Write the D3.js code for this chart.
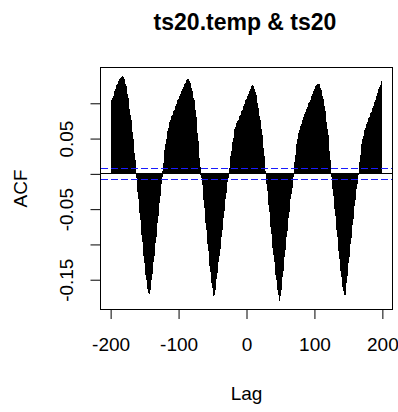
<!DOCTYPE html>
<html>
<head>
<meta charset="utf-8">
<script src="https://cdn.jsdelivr.net/npm/d3@7"></script>
<style>
  body { margin: 0; background: #fff; }
  svg { display: block; }
  text { font-family: "Liberation Sans", Arial, sans-serif; }
</style>
</head>
<body>
<svg width="398" height="412"></svg>
<script>
// ################################### Data #######################################

// cross-correlation values, one per lag, starting at lagStart
var lagStart = -199;
var acfValues = [
    0.100, 0.104, 0.108, 0.111, 0.114, 0.117, 0.120, 0.123, 0.126, 0.128,       // -199
    0.130, 0.132, 0.134, 0.135, 0.136, 0.137, 0.138, 0.138, 0.137, 0.135,       // -189
    0.132, 0.128, 0.124, 0.119, 0.113, 0.107, 0.100, 0.092, 0.084, 0.076,       // -179
    0.068, 0.059, 0.050, 0.040, 0.030, 0.019, 0.008, -0.006, -0.016, -0.026,    // -169
    -0.036, -0.046, -0.056, -0.066, -0.076, -0.086, -0.096, -0.106, -0.116, -0.126, // -159
    -0.135, -0.143, -0.150, -0.157, -0.163, -0.169, -0.170, -0.164, -0.157, -0.150, // -149
    -0.142, -0.134, -0.125, -0.116, -0.107, -0.098, -0.089, -0.080, -0.070, -0.060, // -139
    -0.050, -0.041, -0.032, -0.023, -0.014, -0.005, 0.004, 0.015, 0.025, 0.034, // -129
    0.042, 0.049, 0.056, 0.061, 0.065, 0.069, 0.073, 0.076, 0.079, 0.082,       // -119
    0.084, 0.087, 0.089, 0.091, 0.094, 0.096, 0.099, 0.101, 0.104, 0.106,       // -109
    0.109, 0.111, 0.113, 0.116, 0.118, 0.120, 0.123, 0.125, 0.127, 0.129,       // -99
    0.131, 0.133, 0.134, 0.134, 0.133, 0.131, 0.129, 0.126, 0.122, 0.118,       // -89
    0.113, 0.108, 0.104, 0.100, 0.091, 0.081, 0.070, 0.058, 0.046, 0.034,       // -79
    0.022, 0.010, -0.001, -0.006, -0.016, -0.027, -0.037, -0.048, -0.058, -0.069, // -69
    -0.080, -0.090, -0.100, -0.110, -0.120, -0.130, -0.139, -0.147, -0.155, -0.162, // -59
    -0.168, -0.173, -0.171, -0.164, -0.157, -0.149, -0.141, -0.133, -0.125, -0.116, // -49
    -0.107, -0.098, -0.089, -0.080, -0.071, -0.062, -0.053, -0.044, -0.035, -0.027, // -39
    -0.019, -0.012, -0.006, -0.001, 0.008, 0.017, 0.025, 0.032, 0.039, 0.045,   // -29
    0.051, 0.057, 0.063, 0.066, 0.069, 0.072, 0.075, 0.077, 0.079, 0.082,       // -19
    0.084, 0.086, 0.089, 0.091, 0.094, 0.096, 0.099, 0.101, 0.104, 0.106,       // -9
    0.108, 0.110, 0.113, 0.115, 0.117, 0.120, 0.122, 0.124, 0.126, 0.125,       // 1
    0.123, 0.120, 0.116, 0.112, 0.106, 0.100, 0.094, 0.088, 0.082, 0.076,       // 11
    0.070, 0.063, 0.055, 0.047, 0.037, 0.026, 0.015, 0.004, -0.004, -0.014,     // 21
    -0.024, -0.034, -0.044, -0.054, -0.064, -0.075, -0.085, -0.095, -0.105, -0.115, // 31
    -0.125, -0.134, -0.143, -0.151, -0.158, -0.165, -0.171, -0.176, -0.1795, -0.173, // 41
    -0.164, -0.155, -0.146, -0.137, -0.128, -0.118, -0.108, -0.099, -0.090, -0.081, // 51
    -0.072, -0.063, -0.054, -0.045, -0.036, -0.028, -0.020, -0.012, -0.005, 0.006, // 61
    0.017, 0.027, 0.036, 0.043, 0.049, 0.054, 0.058, 0.062, 0.065, 0.068,       // 71
    0.071, 0.074, 0.077, 0.080, 0.082, 0.085, 0.087, 0.090, 0.092, 0.095,       // 81
    0.097, 0.100, 0.102, 0.105, 0.108, 0.110, 0.113, 0.115, 0.118, 0.120,       // 91
    0.122, 0.124, 0.126, 0.127, 0.128, 0.128, 0.127, 0.125, 0.122, 0.119,       // 101
    0.115, 0.111, 0.106, 0.101, 0.096, 0.089, 0.081, 0.073, 0.064, 0.055,       // 111
    0.044, 0.032, 0.020, 0.007, -0.004, -0.013, -0.022, -0.032, -0.041, -0.050, // 121
    -0.060, -0.070, -0.080, -0.090, -0.100, -0.110, -0.120, -0.129, -0.138, -0.146, // 131
    -0.153, -0.160, -0.166, -0.171, -0.171, -0.163, -0.154, -0.145, -0.136, -0.127, // 141
    -0.118, -0.109, -0.100, -0.091, -0.082, -0.073, -0.064, -0.055, -0.046, -0.037, // 151
    -0.029, -0.021, -0.014, -0.007, -0.002, 0.006, 0.017, 0.027, 0.036, 0.043,  // 161
    0.049, 0.054, 0.058, 0.062, 0.065, 0.068, 0.071, 0.074, 0.076, 0.079,       // 171
    0.081, 0.083, 0.086, 0.088, 0.090, 0.093, 0.096, 0.099, 0.102, 0.105,       // 181
    0.108, 0.111, 0.114, 0.117, 0.120, 0.123, 0.126, 0.128, 0.131              // 191
];

var xTicks = [-200, -100, 0, 100, 200];
var yTicks = [-0.15, -0.10, -0.05, 0, 0.05, 0.10];
// R leaves out the labels that would overlap
var yTickLabels = ["-0.15", "", "-0.05", "", "0.05", ""];

// 95% band drawn as the blue dashed lines
var ciValue = 0.0078;

var titleText = "ts20.temp & ts20";
var xLabelText = "Lag";
var yLabelText = "ACF";

var lags = acfValues.map(function(d, i) { return lagStart + i; });

// ################################### Layout #######################################

var svg = d3.select('svg');
var box = {l: 100.5, r: 392.5, t: 67.5, b: 309.5};
var fontSize = 19;

// R pads the data range by 4% on each side
var xExt = d3.extent(lags);
var xPad = (xExt[1] - xExt[0]) * 0.04;
var xScale = d3.scaleLinear()
    .domain([xExt[0] - xPad, xExt[1] + xPad])
    .range([box.l, box.r]);

var yExt = d3.extent(acfValues.concat([ciValue, -ciValue]));
var yPad = (yExt[1] - yExt[0]) * 0.04;
var yScale = d3.scaleLinear()
    .domain([yExt[0] - yPad, yExt[1] + yPad])
    .range([box.b, box.t]);

// snap horizontal lines onto the pixel grid
function crispY(v) { return Math.round(yScale(v) - 0.5) + 0.5; }

// ################################### Bars #######################################

svg.append('g')
    .attr('shape-rendering', 'crispEdges')
    .selectAll('line')
    .data(acfValues)
    .enter()
    .append('line')
    .attr('x1', function(d, i) { return xScale(lags[i]); })
    .attr('x2', function(d, i) { return xScale(lags[i]); })
    .attr('y1', yScale(0))
    .attr('y2', function(d) { return yScale(d); })
    .attr('stroke', '#000')
    .attr('stroke-width', 1);

// zero line
svg.append('line')
    .attr('x1', box.l).attr('x2', box.r)
    .attr('y1', crispY(0)).attr('y2', crispY(0))
    .attr('stroke', '#000').attr('stroke-width', 1);

// confidence lines
var ciG = svg.append('g').attr('shape-rendering', 'crispEdges');
[ciValue, -ciValue].forEach(function(c) {
    ciG.append('line')
        .attr('x1', box.l).attr('x2', box.r)
        .attr('y1', crispY(c)).attr('y2', crispY(c))
        .attr('stroke', '#1a1aff')
        .attr('stroke-width', 1)
        .attr('stroke-dasharray', '7,3');
});

// ################################### Axes #######################################

var xAxisG = svg.append('g')
    .attr('transform', 'translate(0,' + box.b + ')')
    .call(d3.axisBottom(xScale).tickValues(xTicks).tickSize(9.5).tickSizeOuter(0)
        .tickFormat(function(d) { return String(d); }));
xAxisG.select('.domain').remove();
xAxisG.selectAll('line').attr('stroke', '#000');
xAxisG.selectAll('text')
    .attr('dy', null)
    .attr('y', 41)
    .attr('fill', '#000')
    .style('font-size', fontSize + 'px')
    .style('font-family', '"Liberation Sans", Arial, sans-serif');

var yAxisG = svg.append('g')
    .attr('transform', 'translate(' + box.l + ',0)')
    .call(d3.axisLeft(yScale).tickValues(yTicks).tickSize(10).tickSizeOuter(0)
        .tickFormat(function(d, i) { return yTickLabels[i]; }));
yAxisG.select('.domain').remove();
yAxisG.selectAll('line').attr('stroke', '#000');
yAxisG.selectAll('text')
    .attr('x', null)
    .attr('dy', null)
    .attr('text-anchor', 'middle')
    .attr('transform', 'translate(-27.5,0) rotate(-90)')
    .attr('fill', '#000')
    .style('font-size', fontSize + 'px')
    .style('font-family', '"Liberation Sans", Arial, sans-serif');

// plot frame
svg.append('rect')
    .attr('x', box.l).attr('y', box.t)
    .attr('width', box.r - box.l).attr('height', box.b - box.t)
    .attr('fill', 'none').attr('stroke', '#000').attr('stroke-width', 1);

// ################################### Labels #######################################

svg.append('text')
    .attr('x', (box.l + box.r) / 2 - 1.5)
    .attr('y', 30)
    .attr('text-anchor', 'middle')
    .style('font-size', '23px')
    .style('font-weight', 'bold')
    .text(titleText);

svg.append('text')
    .attr('x', (box.l + box.r) / 2)
    .attr('y', 399.5)
    .attr('text-anchor', 'middle')
    .style('font-size', fontSize + 'px')
    .text(xLabelText);

svg.append('text')
    .attr('transform', 'translate(26.5,' + (box.t + box.b) / 2 + ') rotate(-90)')
    .attr('text-anchor', 'middle')
    .style('font-size', fontSize + 'px')
    .text(yLabelText);
</script>
</body>
</html>
